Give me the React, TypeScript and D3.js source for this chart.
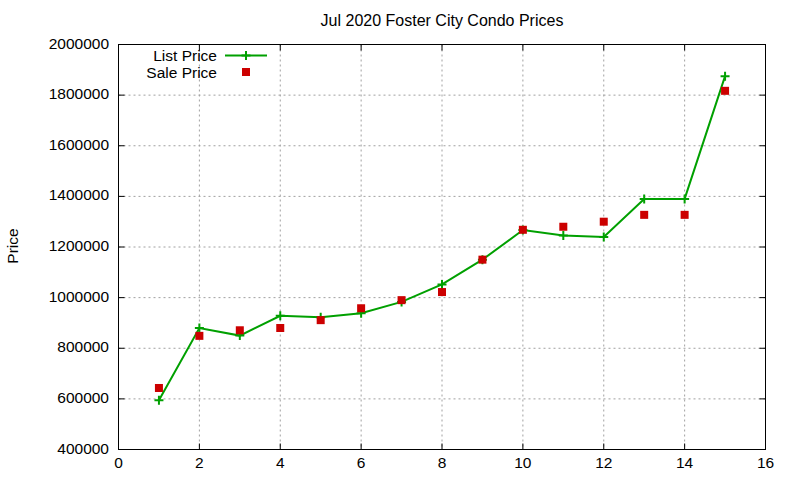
import React from "react";
import * as d3 from "d3";

const xValues = [1, 2, 3, 4, 5, 6, 7, 8, 9, 10, 11, 12, 13, 14, 15];
const listPrice = [595000, 880000, 850000, 928000, 922000, 938000, 983000, 1052000, 1150000, 1267000, 1245000, 1240000, 1390000, 1390000, 1875000];
const salePrice = [643000, 849000, 871000, 880000, 911000, 958000, 990000, 1022000, 1150000, 1268000, 1280000, 1300000, 1327000, 1327000, 1817000];
const xTicks = [0, 2, 4, 6, 8, 10, 12, 14, 16];
const yTicks = [400000, 600000, 800000, 1000000, 1200000, 1400000, 1600000, 1800000, 2000000];
const title = "Jul 2020 Foster City Condo Prices";
const yLabel = "Price";
const seriesNames = ["List Price", "Sale Price"];

const W = 800, H = 480;
const L = 118.5, R = 765.5, T = 44.5, B = 449.5;
const font = "'Liberation Sans', Arial, sans-serif";
const FS = 15.5;

export default function App() {
  const x = d3.scaleLinear().domain([0, 16]).range([L, R]);
  const y = d3.scaleLinear().domain([400000, 2000000]).range([B, T]);
  const line = d3.line<number>().x((_, i) => x(xValues[i])).y((d) => y(d));
  const green = "#00a000";
  const red = "#cc0000";
  const plus = (cx: number, cy: number, k: string) => (
    <path key={k} d={`M${cx - 4.5},${cy}H${cx + 4.5}M${cx},${cy - 4.5}V${cy + 4.5}`} stroke={green} strokeWidth={2} />
  );
  return (
    <svg width={W} height={H} style={{ position: "absolute", left: 0, top: 0, background: "#fff" }} fontFamily={font}>
      <rect x={0} y={0} width={W} height={H} fill="#fff" />
      {xTicks.slice(1, -1).map((t) => (
        <line key={"gx" + t} x1={x(t)} x2={x(t)} y1={T} y2={B} stroke="#a0a0a0" strokeWidth={1} strokeDasharray="2,3" />
      ))}
      {yTicks.slice(1, -1).map((t) => (
        <line key={"gy" + t} x1={L} x2={R} y1={y(t)} y2={y(t)} stroke="#a0a0a0" strokeWidth={1} strokeDasharray="2,3" />
      ))}
      {xTicks.map((t) => (
        <g key={"tx" + t}>
          <line x1={x(t)} x2={x(t)} y1={B} y2={B - 6} stroke="#000" />
          <line x1={x(t)} x2={x(t)} y1={T} y2={T + 6} stroke="#000" />
          <text x={x(t)} y={467.5} textAnchor="middle" fontSize={FS} fill="#000">{t}</text>
        </g>
      ))}
      {yTicks.map((t) => (
        <g key={"ty" + t}>
          <line x1={L} x2={L + 6} y1={y(t)} y2={y(t)} stroke="#000" />
          <line x1={R} x2={R - 6} y1={y(t)} y2={y(t)} stroke="#000" />
          <text x={109} y={y(t) + 4} textAnchor="end" fontSize={FS} fill="#000">{t}</text>
        </g>
      ))}
      <rect x={L} y={T} width={R - L} height={B - T} fill="none" stroke="#000" strokeWidth={1} />
      <text x={(L + R) / 2} y={25.5} textAnchor="middle" fontSize={16} fill="#000">{title}</text>
      <text transform={`translate(18,246) rotate(-90)`} textAnchor="middle" fontSize={FS} fill="#000">{yLabel}</text>
      <text x={217} y={60.5} textAnchor="end" fontSize={FS} fill="#000">{seriesNames[0]}</text>
      <line x1={225} x2={267} y1={55.5} y2={55.5} stroke={green} strokeWidth={2} />
      {plus(246, 55.5, "lp")}
      <text x={217} y={77.5} textAnchor="end" fontSize={FS} fill="#000">{seriesNames[1]}</text>
      <rect x={242} y={68} width={8} height={8} fill={red} />
      <path d={line(listPrice) || ""} fill="none" stroke={green} strokeWidth={2} />
      {listPrice.map((v, i) => plus(x(xValues[i]), y(v), "p" + i))}
      {salePrice.map((v, i) => (
        <rect key={"s" + i} x={x(xValues[i]) - 4} y={y(v) - 4} width={8} height={8} fill={red} />
      ))}
    </svg>
  );
}
